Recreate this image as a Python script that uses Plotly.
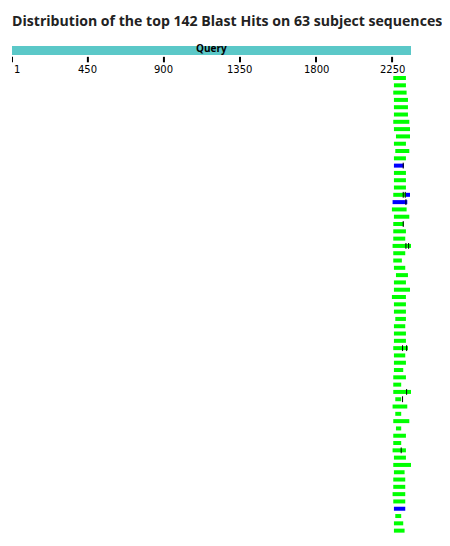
import plotly.graph_objects as go

query_len = 2362
tick_vals = [1, 450, 900, 1350, 1800, 2250]

# one entry per subject row
hit_start = [2257, 2261, 2257, 2261, 2261, 2261, 2257, 2261, 2273, 2261, 2269, 2261, 2261, 2261, 2261, 2261,
             2257, 2253, 2249, 2261, 2257, 2257, 2257, 2253, 2257, 2257, 2261, 2273, 2261, 2261, 2249,
             2261, 2261, 2269, 2261, 2261, 2261, 2257, 2261, 2261, 2261, 2257, 2257, 2257, 2269, 2253, 2269, 2257,
             2273, 2257, 2257, 2253, 2261, 2257, 2261, 2257, 2257, 2253, 2257, 2261, 2269, 2261, 2261]
hit_end = [2332, 2332, 2336, 2344, 2344, 2344, 2352, 2356, 2356, 2332, 2352, 2332, 2320, 2332, 2332, 2332,
           2332, 2340, 2336, 2352, 2320, 2332, 2328, 2362, 2328, 2308, 2328, 2344, 2332, 2356, 2332,
           2332, 2332, 2332, 2328, 2332, 2332, 2344, 2328, 2332, 2316, 2332, 2304, 2362, 2304, 2340, 2304, 2352,
           2304, 2332, 2304, 2332, 2332, 2362, 2324, 2328, 2328, 2328, 2328, 2328, 2304, 2316, 2324]
hit_color = ["g"] * 63
hit_color[12] = "b"
hit_color[17] = "b"
hit_color[59] = "b"
# extra blue piece on row 17
extra_rows = [16]
extra_start = [2332]
extra_end = [2356]
# black gap markers: (row, position)
mark_rows = [12, 16, 16, 17, 20, 23, 23, 37, 37, 43, 44, 51]
mark_pos = [2316, 2316, 2328, 2332, 2316, 2332, 2348, 2312, 2336, 2336, 2312, 2304]

colors = {"g": "#00ff00", "b": "#0000ff"}

fig = go.Figure()

for c in ["g", "b"]:
    xs, ys = [], []
    for i in range(len(hit_start)):
        if hit_color[i] == c:
            xs += [hit_start[i], hit_end[i], None]
            ys += [i, i, None]
    if c == "b":
        for r, s, e in zip(extra_rows, extra_start, extra_end):
            xs += [s, e, None]
            ys += [r, r, None]
    fig.add_trace(go.Scatter(x=xs, y=ys, mode="lines", line=dict(color=colors[c], width=4),
                             hoverinfo="skip", showlegend=False))

mx, my = [], []
for r, p in zip(mark_rows, mark_pos):
    mx += [p, p, None]
    my += [r - 0.4, r + 0.4, None]
fig.add_trace(go.Scatter(x=mx, y=my, mode="lines", line=dict(color="black", width=1),
                         hoverinfo="skip", showlegend=False))

# query bar
fig.add_shape(type="rect", x0=1, x1=query_len, y0=-4.4, y1=-3.15, fillcolor="#5bc8c8", line_width=0)
fig.add_annotation(x=query_len / 2, y=-4.05, text="<b>Query</b>", showarrow=False,
                   font=dict(size=10, color="black", family="Open Sans"))

# axis ticks
for t in tick_vals:
    fig.add_shape(type="line", x0=t, x1=t, y0=-2.9, y1=-2.15, line=dict(color="black", width=2))
    fig.add_annotation(x=t, y=-1.15, text=str(t), showarrow=False, xanchor="left" if t == 1 else "center",
                       font=dict(size=10, color="black", family="DejaVu Sans"))

fig.update_layout(
    width=450, height=546,
    margin=dict(l=4, r=47, t=0, b=0),
    paper_bgcolor="white", plot_bgcolor="white",
    xaxis=dict(range=[1, query_len], visible=False),
    yaxis=dict(range=[65.2, -9.59], visible=False),
    title=dict(text="<b>Distribution of the top 142 Blast Hits on 63 subject sequences</b>",
               x=0.009, xanchor="left", y=0.976, yanchor="middle",
               font=dict(size=14.1, color="#222", family="Open Sans")),
)

fig.write_html("out.html")
